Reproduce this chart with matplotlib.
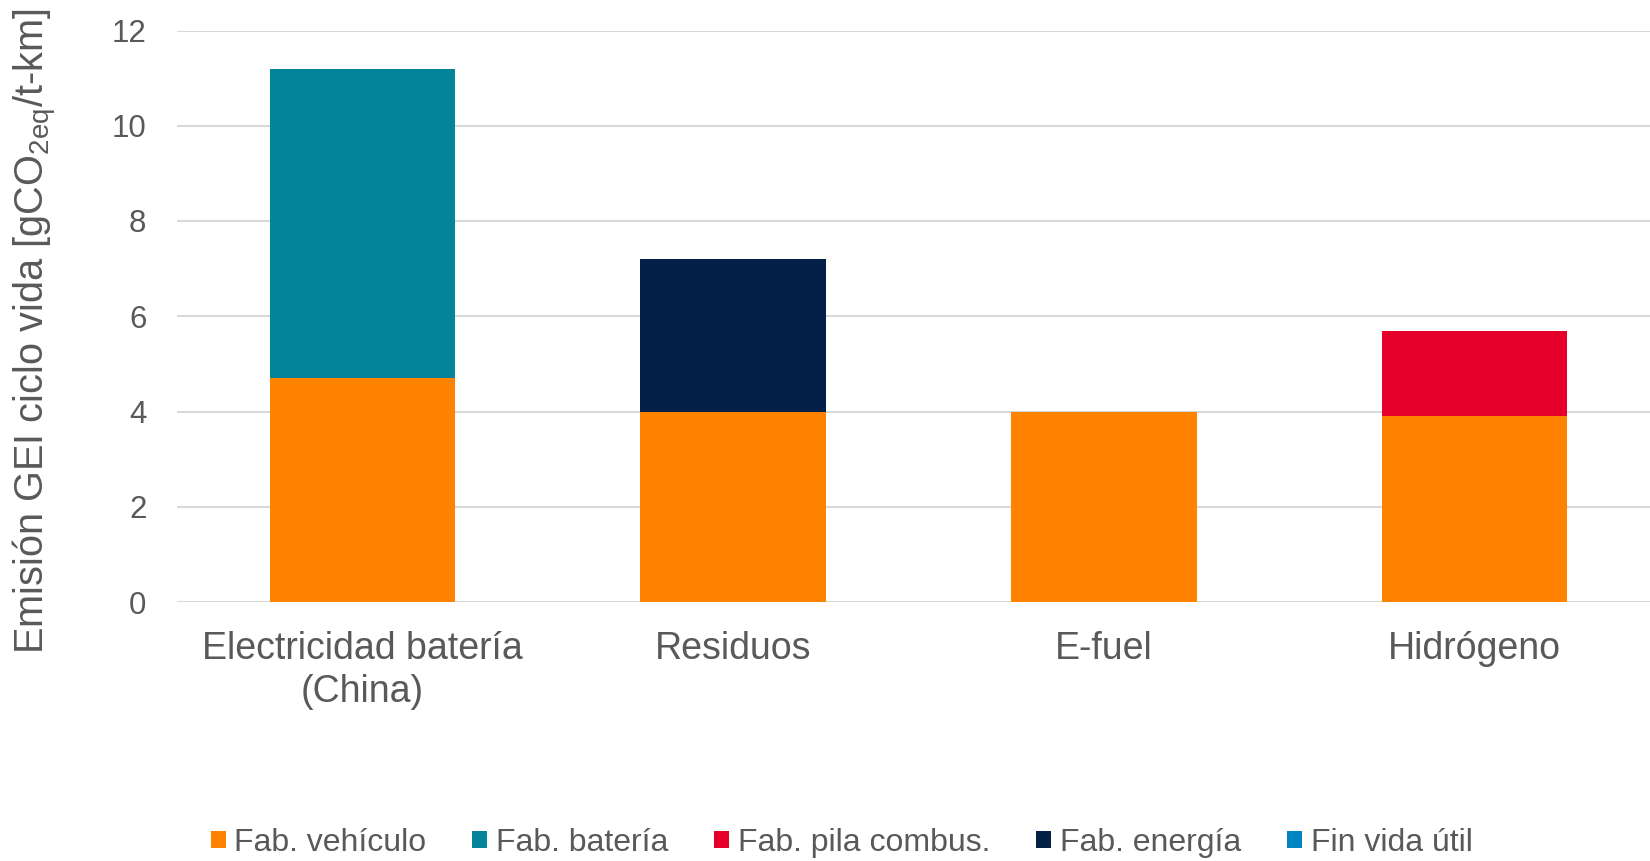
import matplotlib
matplotlib.use("Agg")
import matplotlib.pyplot as plt
from matplotlib.patches import Patch
import numpy as np

plt.rcParams['font.family'] = ['Liberation Sans', 'DejaVu Sans']
plt.rcParams['mathtext.fontset'] = 'custom'
plt.rcParams['mathtext.rm'] = 'Liberation Sans'
plt.rcParams['mathtext.it'] = 'Liberation Sans'

categories = ["Electricidad batería\n(China)", "Residuos", "E-fuel", "Hidrógeno"]
series_names = ["Fab. vehículo", "Fab. batería", "Fab. pila combus.", "Fab. energía", "Fin vida útil"]
fab_vehiculo = [4.7, 4.0, 4.0, 3.9]
fab_bateria = [6.5, 0.0, 0.0, 0.0]
fab_pila = [0.0, 0.0, 0.0, 1.8]
fab_energia = [0.0, 3.2, 0.0, 0.0]
fin_vida = [0.0, 0.0, 0.0, 0.0]
colors = ["#FF8300", "#03849A", "#E4002B", "#052046", "#0085C3"]
yticks = [0, 2, 4, 6, 8, 10, 12]

TXT = "#595959"
fig = plt.figure(figsize=(16.5, 8.61), dpi=100)
ax = fig.add_axes([177/1650, 1-602/861, 1483/1650, (602-30.5)/861])

x = np.arange(len(categories))
bottom = np.zeros(len(categories))
for name, vals, col in zip(series_names,
                           [fab_vehiculo, fab_bateria, fab_pila, fab_energia, fin_vida],
                           colors):
    vals = np.array(vals)
    ax.bar(x, vals, width=0.5, bottom=bottom, color=col, label=name, zorder=3)
    bottom += vals

ax.set_ylim(0, 12)
ax.set_xlim(-0.5, 3.5)
ax.set_yticks(yticks)
ax.set_yticklabels([str(t) for t in yticks])
ax.set_xticks(x)
ax.set_xticklabels(categories, linespacing=1.25)
ax.grid(axis='y', color='#D9D9D9', linewidth=1.5, zorder=0)
for s in ax.spines.values():
    s.set_visible(False)
ax.tick_params(axis='y', length=0, pad=22, labelsize=22.5, labelcolor=TXT)
ax.tick_params(axis='x', length=0, pad=21, labelsize=27, labelcolor=TXT)

fig.text(35/1650, 1-331/861, r"Emisión GEI ciclo vida [gCO$_{\mathrm{2eq}}$/t-km]",
         rotation=90, ha='center', va='center', fontsize=28.6, color=TXT)

handles = [Patch(facecolor=c, edgecolor='none') for c in colors]
fig.legend(handles, series_names, loc='center', bbox_to_anchor=(0.51, 0.021), ncol=5,
           frameon=False, fontsize=23, labelcolor=TXT, handlelength=0.47, handleheight=0.47,
           handletextpad=0.26, columnspacing=1.45)

fig.savefig("out.png", dpi=100)
